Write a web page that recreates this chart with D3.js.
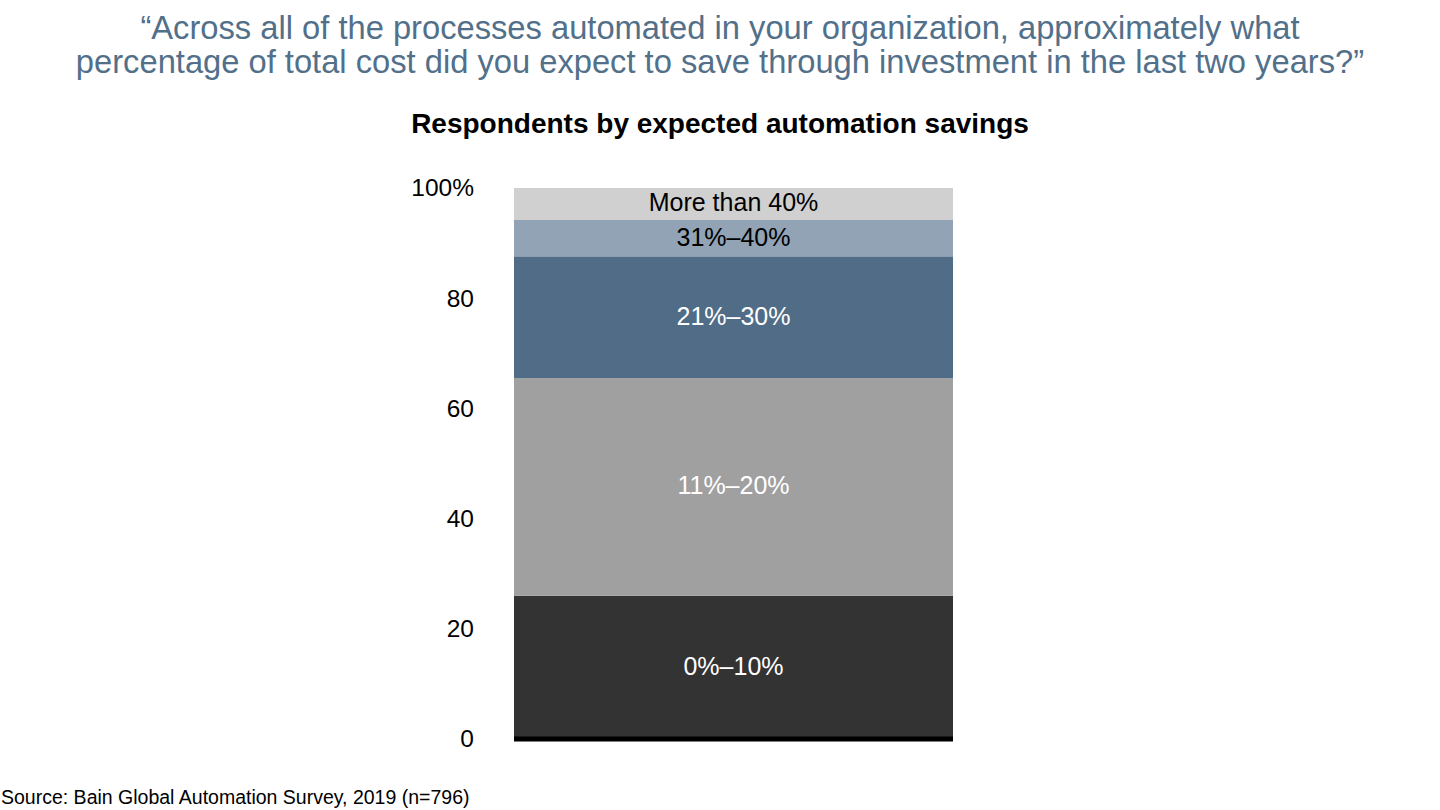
<!DOCTYPE html>
<html lang="en">

<head>
	<meta charset="utf-8">
	<title>Respondents by expected automation savings</title>
	<script src="https://d3js.org/d3.v7.min.js"></script>
	<style>
		body {
			margin: 0;
			background: #fff;
			font-family: "Liberation Sans", Arial, Helvetica, sans-serif;
		}

		svg text {
			font-family: "Liberation Sans", Arial, Helvetica, sans-serif;
		}
	</style>
</head>

<body>
	<script>
		//data
		var categories = ["All respondents"];
		var bands = ["0%–10%", "11%–20%", "21%–30%", "31%–40%", "More than 40%"];
		var shares = [26, 39.5, 22.1, 6.6, 5.8];
		var bandColors = ["#333333", "#a0a0a0", "#506c86", "#91a3b4", "#d0d0d0"];
		var labelColors = ["#ffffff", "#ffffff", "#ffffff", "#000000", "#000000"];
		var yTicks = [0, 20, 40, 60, 80, 100];

		var titleLines = [
			"“Across all of the processes automated in your organization, approximately what",
			"percentage of total cost did you expect to save through investment in the last two years?”"
		];
		var subtitle = "Respondents by expected automation savings";
		var source = "Source: Bain Global Automation Survey, 2019 (n=796)";

		var w = 1440;
		var h = 810;

		var svg = d3.select("body")
			.append("svg")
			.attr("width", w)
			.attr("height", h);

		//stack the segments
		var row = {};
		bands.forEach(function (b, i) { row[b] = shares[i]; });
		var stacked = d3.stack().keys(bands)([row]);

		var xScale = d3.scaleBand().domain(categories).range([514, 953]).padding(0);
		var yScale = d3.scaleLinear().domain([0, 100]).range([739, 188]);

		//title
		svg.selectAll("text.title")
			.data(titleLines)
			.enter()
			.append("text")
			.attr("class", "title")
			.attr("x", w / 2)
			.attr("y", function (d, i) { return 39 + i * 34; })
			.attr("text-anchor", "middle")
			.style("font-size", "32.7px")
			.style("fill", "#52708a")
			.text(function (d) { return d; });

		svg.append("text")
			.attr("x", w / 2)
			.attr("y", 133)
			.attr("text-anchor", "middle")
			.style("font-size", "28px")
			.style("font-weight", "bold")
			.style("fill", "#000")
			.text(subtitle);

		//segments
		var seg = svg.selectAll("g.seg")
			.data(stacked)
			.enter()
			.append("g")
			.attr("class", "seg");

		seg.append("rect")
			.attr("x", xScale(categories[0]))
			.attr("width", xScale.bandwidth())
			.attr("y", function (d) { return yScale(d[0][1]); })
			.attr("height", function (d) { return yScale(d[0][0]) - yScale(d[0][1]); })
			.attr("fill", function (d, i) { return bandColors[i]; });

		seg.append("text")
			.attr("x", xScale(categories[0]) + xScale.bandwidth() / 2)
			.attr("y", function (d) { return yScale((d[0][0] + d[0][1]) / 2); })
			.attr("dy", "0.3em")
			.attr("text-anchor", "middle")
			.style("font-size", "25px")
			.style("fill", function (d, i) { return labelColors[i]; })
			.text(function (d) { return d.key; });

		//baseline
		svg.append("line")
			.attr("x1", xScale.range()[0])
			.attr("x2", xScale.range()[1])
			.attr("y1", yScale(0))
			.attr("y2", yScale(0))
			.style("stroke", "#000")
			.style("stroke-width", 5);

		//left axis, labels only
		var yAxis = d3.axisLeft(yScale)
			.tickValues(yTicks)
			.tickSize(0)
			.tickPadding(0)
			.tickFormat(function (d) { return d === 100 ? "100%" : d; });

		svg.append("g")
			.attr("class", "leftAxis")
			.attr("transform", "translate(474,0)")
			.call(yAxis)
			.call(function (g) { g.select(".domain").remove(); })
			.selectAll("text")
			.style("font-size", "24.5px")
			.style("fill", "#000");

		//source
		svg.append("text")
			.attr("x", 1)
			.attr("y", 804)
			.style("font-size", "19.5px")
			.style("fill", "#000")
			.text(source);
	</script>
</body>

</html>
